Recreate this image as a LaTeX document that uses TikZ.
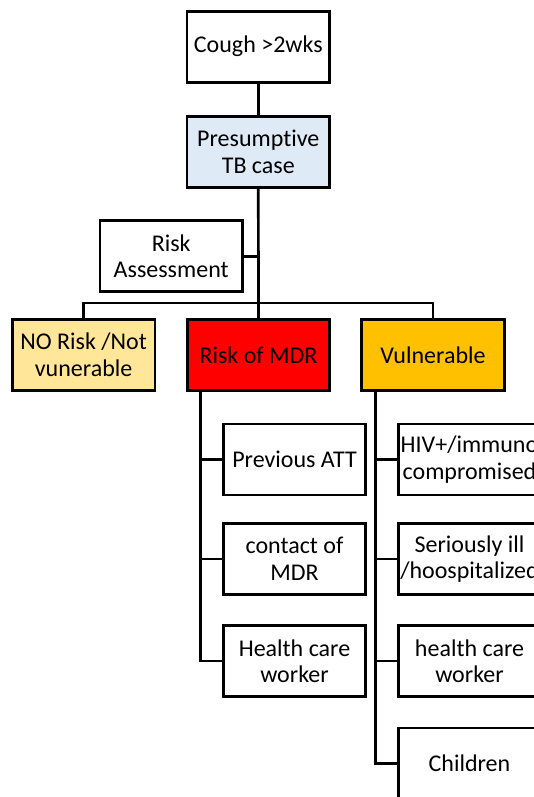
\documentclass[tikz,border=0pt]{standalone}
\usepackage{fontspec}
\setmainfont[Ligatures={NoCommon,NoContextual}]{Carlito}
\definecolor{paleblue}{RGB}{222,235,247}
\definecolor{paleyellow}{RGB}{255,230,153}
\definecolor{amber}{RGB}{255,192,0}
\definecolor{mdrred}{RGB}{255,0,0}
\begin{document}
\begin{tikzpicture}[x=1pt,y=-1pt,
  box/.style={draw=black, line width=2.7pt, minimum width=142.5pt, minimum height=71pt,
    align=center, inner sep=0pt, font=\fontsize{24}{26.5}\selectfont},
  conn/.style={draw=black, line width=2.7pt}]
\useasboundingbox (0,0) rectangle (534,797);
\clip (0,0) rectangle (534,797);

\node[box] (cough) at (258.3,46.7) {Cough >2wks};
\node[box, fill=paleblue] (pres) at (258.3,151.7) {Presumptive\\TB case};
\node[box] (risk) at (171.2,256.3) {Risk\\Assessment};
\node[box, fill=paleyellow] (norisk) at (83.6,355) {NO Risk /Not\\vunerable};
\node[box, fill=mdrred] (mdr) at (258.5,355) {Risk of MDR};
\node[box, fill=amber] (vul) at (433,355) {Vulnerable};

\node[box] (m1) at (294.5,459.5) {Previous ATT};
\node[box] (m2) at (294.5,559) {contact of\\MDR};
\node[box] (m3) at (294.5,661) {Health care\\worker};

\node[box] (v1) at (469.5,459.5) {HIV+/immuno\\compromised};
\node[box] (v2) at (469.5,559) {Seriously ill\\/hoospitalized};
\node[box] (v3) at (469.5,661) {health care\\worker};
\node[box] (v4) at (469.5,763.5) {Children};

\coordinate (bus) at (258.3,303);
\coordinate (mtop) at (200.7,355);
\coordinate (vtop) at (375.5,355);

\draw[conn] (cough.south) -- (pres.north);
\draw[conn] (pres.south) -- (mdr.north);
\draw[conn] (risk.east) -- (risk.east -| pres.south);
\draw[conn] (norisk.north) |- (bus) -| (vul.north);

\draw[conn] (mtop |- mdr.south) |- (m3.west);
\draw[conn] (mtop |- m1.west) -- (m1.west);
\draw[conn] (mtop |- m2.west) -- (m2.west);

\draw[conn] (vtop |- vul.south) |- (v4.west);
\draw[conn] (vtop |- v1.west) -- (v1.west);
\draw[conn] (vtop |- v2.west) -- (v2.west);
\draw[conn] (vtop |- v3.west) -- (v3.west);
\end{tikzpicture}
\end{document}
